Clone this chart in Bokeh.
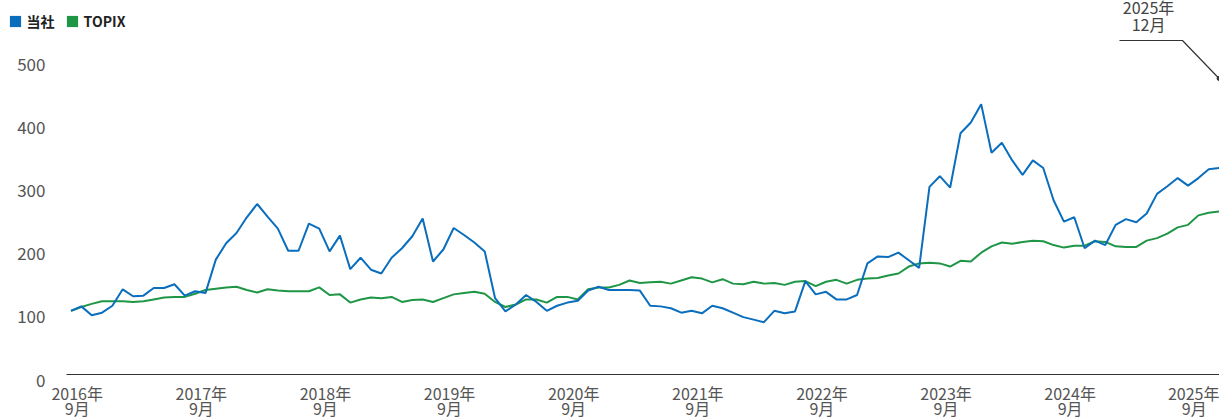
import pandas as pd
from bokeh.plotting import figure
from bokeh.models import Range1d, LinearAxis, FixedTicker, Legend, LegendItem, ColumnDataSource
from bokeh.embed import file_html
from bokeh.resources import INLINE
from bokeh.core.properties import value

# ---------------- data (index, Sep 2016 = 100) ----------------
company = [100, 107, 93, 97, 108, 134, 123, 124, 136, 136, 142, 124,
           131, 128, 181, 207, 223, 248, 269, 249, 230, 195, 195, 238,
           230, 194, 219, 166, 184, 165, 159, 184, 199, 218, 246, 178,
           197, 231, 220, 208, 194, 120, 99, 110, 125, 114, 100, 108,
           113, 116, 132, 138, 133, 133, 133, 132, 108, 107, 104, 97,
           100, 96, 108, 104, 97, 90, 86, 82, 100, 96, 99, 147,
           126, 130, 118, 118, 125, 175, 186, 185, 192, 180, 168, 296,
           313, 295, 381, 398, 427, 350, 366, 338, 315, 338, 326, 275,
           241, 248, 199, 211, 204, 236, 245, 240, 254, 285, 297, 310,
           298, 310, 324, 326]
topix = [100, 106, 111, 115, 115, 115, 114, 115, 118, 121, 122, 122,
         127, 133, 135, 137, 138, 133, 129, 134, 132, 131, 131, 131,
         137, 125, 126, 113, 118, 121, 120, 122, 114, 117, 118, 114,
         120, 126, 128, 130, 127, 114, 106, 110, 118, 118, 113, 122,
         122, 118, 134, 137, 137, 141, 148, 144, 145, 146, 143, 148,
         153, 151, 145, 150, 143, 142, 146, 143, 144, 141, 146, 147,
         139, 146, 149, 143, 149, 151, 152, 156, 159, 170, 175, 176,
         175, 170, 179, 178, 192, 202, 208, 206, 209, 211, 210, 204,
         200, 203, 203, 210, 209, 202, 201, 201, 211, 215, 222, 232,
         236, 251, 255, 257]
months = pd.period_range("2016-09", periods=len(company), freq="M")
series_names = ["当社", "TOPIX"]
tick_years = list(range(2016, 2026))
tick_year_labels = [f"{y}年" for y in tick_years]
tick_month_labels = ["9月"] * len(tick_years)
y_ticks = [0, 100, 200, 300, 400, 500]
callout_lines = ["2025年", "12月"]

# ---------------- style / layout ----------------
FONT = "Noto Sans CJK JP"
BLUE = "#0A6EBD"
GREEN = "#1E9646"
LABEL_C = "#555555"

W, H = 1219, 417
x0_px = 70.5          # px of first month
px_month = 10.343
zero_px = 373.5       # px of value 0
px_unit = 0.632

x_start = -x0_px / px_month
x_end = (W - x0_px) / px_month
y_end = zero_px / px_unit
y_start = -(H - zero_px) / px_unit

src = ColumnDataSource(dict(x=list(range(len(company))), company=company, topix=topix,
                            month=[str(m) for m in months]))

p = figure(width=W, height=H, x_range=Range1d(x_start, x_end), y_range=Range1d(y_start, y_end),
           x_axis_location=None, y_axis_location=None, toolbar_location=None,
           output_backend="svg", min_border=0)
p.outline_line_color = None
p.background_fill_color = "white"
p.border_fill_color = "white"
p.xgrid.visible = False
p.ygrid.visible = False

# offset ranges for the tick labels (labels sit slightly off their values in the original)
p.extra_x_ranges = {"xlab": Range1d(x_start - 0.6, x_end - 0.6)}
p.extra_y_ranges = {"ylab": Range1d(y_start + 9.5, y_end + 9.5)}

tick_pos = [(y - 2016) * 12 for y in tick_years]
common_x = dict(x_range_name="xlab", fixed_location=0, ticker=FixedTicker(ticks=tick_pos),
                major_tick_line_color=None, minor_tick_line_color=None,
                major_label_text_font=FONT, major_label_text_font_size="16px",
                major_label_text_color=LABEL_C)
xaxis = LinearAxis(major_label_overrides={t: l for t, l in zip(tick_pos, tick_year_labels)},
                   bounds=(-1.03, x_end + 5),
                   axis_line_color="#333333", axis_line_width=1.2,
                   major_label_standoff=1, **common_x)
p.add_layout(xaxis, "below")
xaxis2 = LinearAxis(major_label_overrides={t: l for t, l in zip(tick_pos, tick_month_labels)},
                    axis_line_color=None, major_label_standoff=16, **common_x)
p.add_layout(xaxis2, "below")

yaxis = LinearAxis(y_range_name="ylab", fixed_location=-1.21,
                   ticker=FixedTicker(ticks=y_ticks),
                   axis_line_color=None, major_tick_line_color=None, minor_tick_line_color=None,
                   major_label_standoff=7,
                   major_label_text_font=FONT, major_label_text_font_size="17px",
                   major_label_text_color=LABEL_C)
p.add_layout(yaxis, "left")

p.line("x", "topix", source=src, line_color=GREEN, line_width=2)
p.line("x", "company", source=src, line_color=BLUE, line_width=2)

# legend swatches (square keys, not drawn in the plot area)
nan = float("nan")
key_src = ColumnDataSource(dict(l=[nan], r=[nan], t=[nan], b=[nan]))
k1 = p.quad(left="l", right="r", top="t", bottom="b", source=key_src, fill_color=BLUE, line_color=None)
k2 = p.quad(left="l", right="r", top="t", bottom="b", source=key_src, fill_color=GREEN, line_color=None)
legend = Legend(items=[LegendItem(label=series_names[0], renderers=[k1]),
                       LegendItem(label=series_names[1], renderers=[k2])],
                orientation="horizontal", location=(7.6, 386),
                glyph_width=14, glyph_height=14, label_height=14,
                label_standoff=5, spacing=10, padding=2, margin=0,
                border_line_color=None, background_fill_alpha=0,
                label_text_font=FONT, label_text_font_size="14px",
                label_text_color="#222222", label_text_font_style="bold")
p.add_layout(legend, "center")

# callout for the latest month
last = len(company) - 1
p.line(x=[last - 9.63, last - 3.54, last], y=[527.7, 527.7, 467.6], line_color="#333333", line_width=1.2)
p.scatter(x=[last], y=[467.6], size=4, color="#333333")
p.text(x=[last - 6.82, last - 6.82], y=[580, 554], text=callout_lines,
       text_align="center", text_baseline="middle",
       text_font=value(FONT), text_font_size="16px", text_color="#444444")

open("out.html", "w").write(file_html(p, INLINE))
